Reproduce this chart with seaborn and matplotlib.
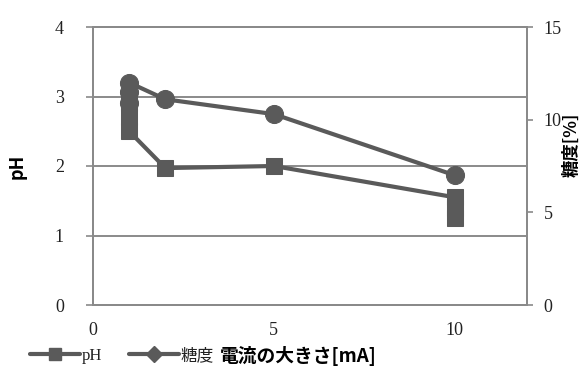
import matplotlib
matplotlib.use("Agg")
import matplotlib.pyplot as plt
import seaborn as sns
import pandas as pd
from matplotlib.lines import Line2D

# Measurements: several readings were taken at 1 mA and 10 mA
current_ph = [1, 1, 1, 2, 5, 10, 10, 10]
ph_values = [2.9, 2.7, 2.5, 1.97, 2.0, 1.55, 1.4, 1.25]
current_brix = [1, 1, 1, 2, 5, 10]
brix_values = [10.9, 11.5, 12.0, 11.1, 10.3, 7.0]

x_ticks = [0, 5, 10]
ph_ticks = [0, 1, 2, 3, 4]
brix_ticks = [0, 5, 10, 15]

series_names = ["pH", "糖度"]
x_label = "電流の大きさ[mA]"
ph_label = "pH"
brix_label = "糖度[%]"

sns.set_theme(style="white")
plt.rcParams["font.family"] = ["Liberation Serif", "Noto Sans CJK JP", "DejaVu Sans"]

line_color = "#5a5a5a"
frame_color = "#8a8a8a"
text_color = "#222222"
tick_font = 13

df_ph = pd.DataFrame({"current": current_ph, "value": ph_values})
df_brix = pd.DataFrame({"current": current_brix, "value": brix_values})

fig = plt.figure(figsize=(5.84, 3.74), dpi=100)
ax = fig.add_axes([93 / 584, 1 - 305 / 374, (527 - 93) / 584, (305 - 27) / 374])
ax2 = ax.twinx()

sns.lineplot(data=df_ph, x="current", y="value", ax=ax, sort=False, estimator=None,
             color=line_color, linewidth=3.0, marker="s", markersize=12,
             markeredgecolor=line_color, markerfacecolor=line_color)
sns.lineplot(data=df_brix, x="current", y="value", ax=ax2, sort=False, estimator=None,
             color=line_color, linewidth=3.0, marker="o", markersize=13,
             markeredgecolor=line_color, markerfacecolor=line_color)

ax.set_xlim(0, 12)
ax.set_ylim(0, 4)
ax2.set_ylim(0, 15)
ax.set_xticks(x_ticks)
ax.set_yticks(ph_ticks)
ax2.set_yticks(brix_ticks)

ax.yaxis.grid(True, color=frame_color, linewidth=1.4)
ax.xaxis.grid(False)
ax2.grid(False)
for a in (ax, ax2):
    for s in a.spines.values():
        s.set_color(frame_color)
        s.set_linewidth(1.4)
        s.set_visible(True)

ax.tick_params(axis="y", left=True, length=5, width=1.2, color=frame_color,
               labelsize=tick_font, pad=16, labelcolor=text_color)
ax.tick_params(axis="x", bottom=False, labelsize=tick_font, pad=6, labelcolor=text_color)
ax2.tick_params(axis="y", right=True, length=4, width=1.2, color=frame_color,
                labelsize=tick_font, pad=8, labelcolor=text_color)

ax.set_xlabel("")
ax.set_ylabel(ph_label, fontsize=13, fontweight="bold", family=["Noto Sans CJK JP"],
              labelpad=20, color="black")
ax2.set_ylabel("")
fig.text(571 / 584, 1 - 145 / 374, brix_label, rotation=90, ha="center", va="center",
         fontsize=12.5, fontweight="bold", family=["Noto Sans CJK JP"], color="black")

handles = [
    Line2D([], [], color=line_color, linewidth=3.0, marker="s", markersize=9),
    Line2D([], [], color=line_color, linewidth=3.0, marker="D", markersize=8),
]
fig.legend(handles, series_names, loc="center left",
           bbox_to_anchor=(30 / 584, 1 - 356 / 374), ncol=2, frameon=False,
           borderpad=0, borderaxespad=0,
           handlelength=3.0, handletextpad=0.1, columnspacing=1.6,
           labelcolor=text_color,
           prop={"family": ["Liberation Serif", "Noto Sans CJK JP"], "size": 12})
fig.text(298 / 584, 1 - 356 / 374, x_label, ha="center", va="center",
         fontsize=13.5, fontweight="bold", family=["Noto Sans CJK JP"], color="black")

fig.savefig("out.png", dpi=100)
